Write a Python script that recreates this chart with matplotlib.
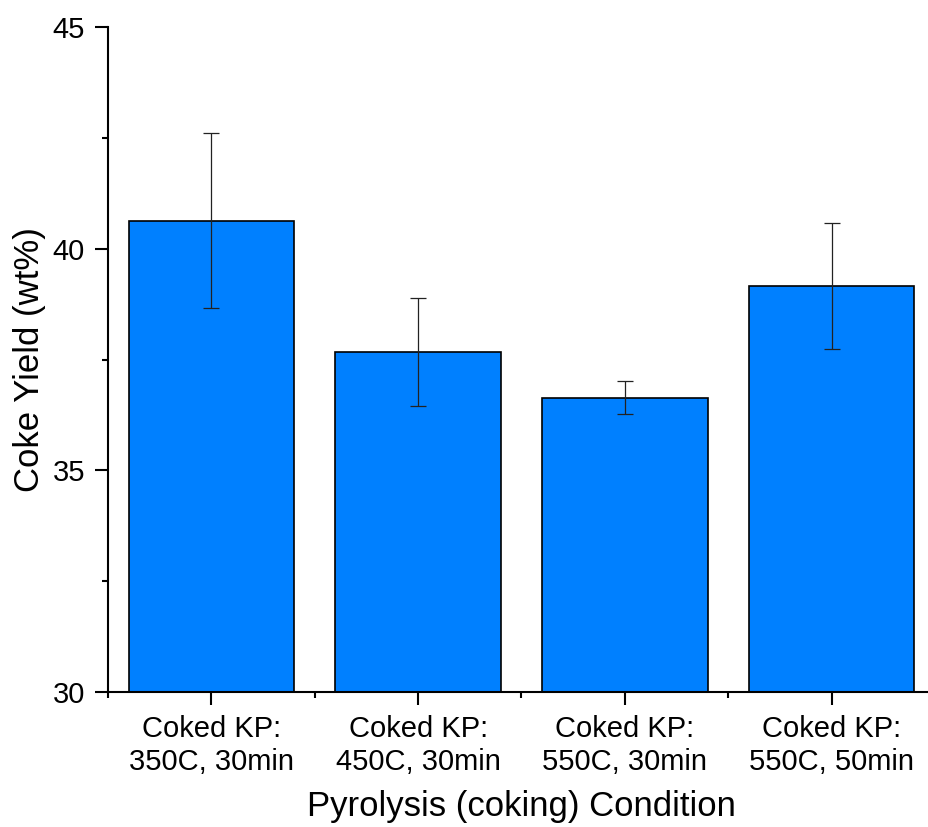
import numpy as np
import matplotlib.pyplot as plt
from matplotlib.ticker import MultipleLocator

plt.rcParams['font.family'] = ['Liberation Sans', 'DejaVu Sans']

conditions = ['Coked KP:\n350C, 30min', 'Coked KP:\n450C, 30min',
              'Coked KP:\n550C, 30min', 'Coked KP:\n550C, 50min']
coke_yield = [40.63, 37.66, 36.64, 39.16]
yield_err = [1.97, 1.22, 0.38, 1.42]

fig = plt.figure(figsize=(9.29, 8.27), dpi=100)
ax = fig.add_axes([108 / 929, 135 / 827, 827 / 929, 665 / 827])

x = np.arange(1, len(conditions) + 1)
ax.bar(x, coke_yield, width=0.8, color='#0080ff', edgecolor='black',
       linewidth=1.2, zorder=2)
ax.errorbar(x, coke_yield, yerr=yield_err, fmt='none', ecolor='#222222',
            elinewidth=0.9, capsize=6, capthick=0.9, zorder=3)

ax.set_xlim(0.5, 4.5)
ax.set_ylim(30, 45)
ax.set_xticks(x)
ax.set_xticklabels(conditions, linespacing=1.25)
ax.set_xticks(np.arange(0.5, 5, 1), minor=True)
ax.yaxis.set_major_locator(MultipleLocator(5))
ax.yaxis.set_minor_locator(MultipleLocator(2.5))

for side in ['top', 'right']:
    ax.spines[side].set_visible(False)
for side in ['left', 'bottom']:
    ax.spines[side].set_linewidth(1.5)

ax.tick_params(axis='both', which='major', direction='out', length=9.5,
               width=1.5, labelsize=21)
ax.tick_params(axis='both', which='minor', direction='out', length=4.5,
               width=1.5)
ax.tick_params(axis='x', which='major', pad=7)
ax.tick_params(axis='y', which='major', pad=7)

ax.set_xlabel('Pyrolysis (coking) Condition', fontsize=25, labelpad=10)
ax.set_ylabel('Coke Yield (wt%)', fontsize=25, labelpad=5)

plt.savefig('out.png', dpi=100)
